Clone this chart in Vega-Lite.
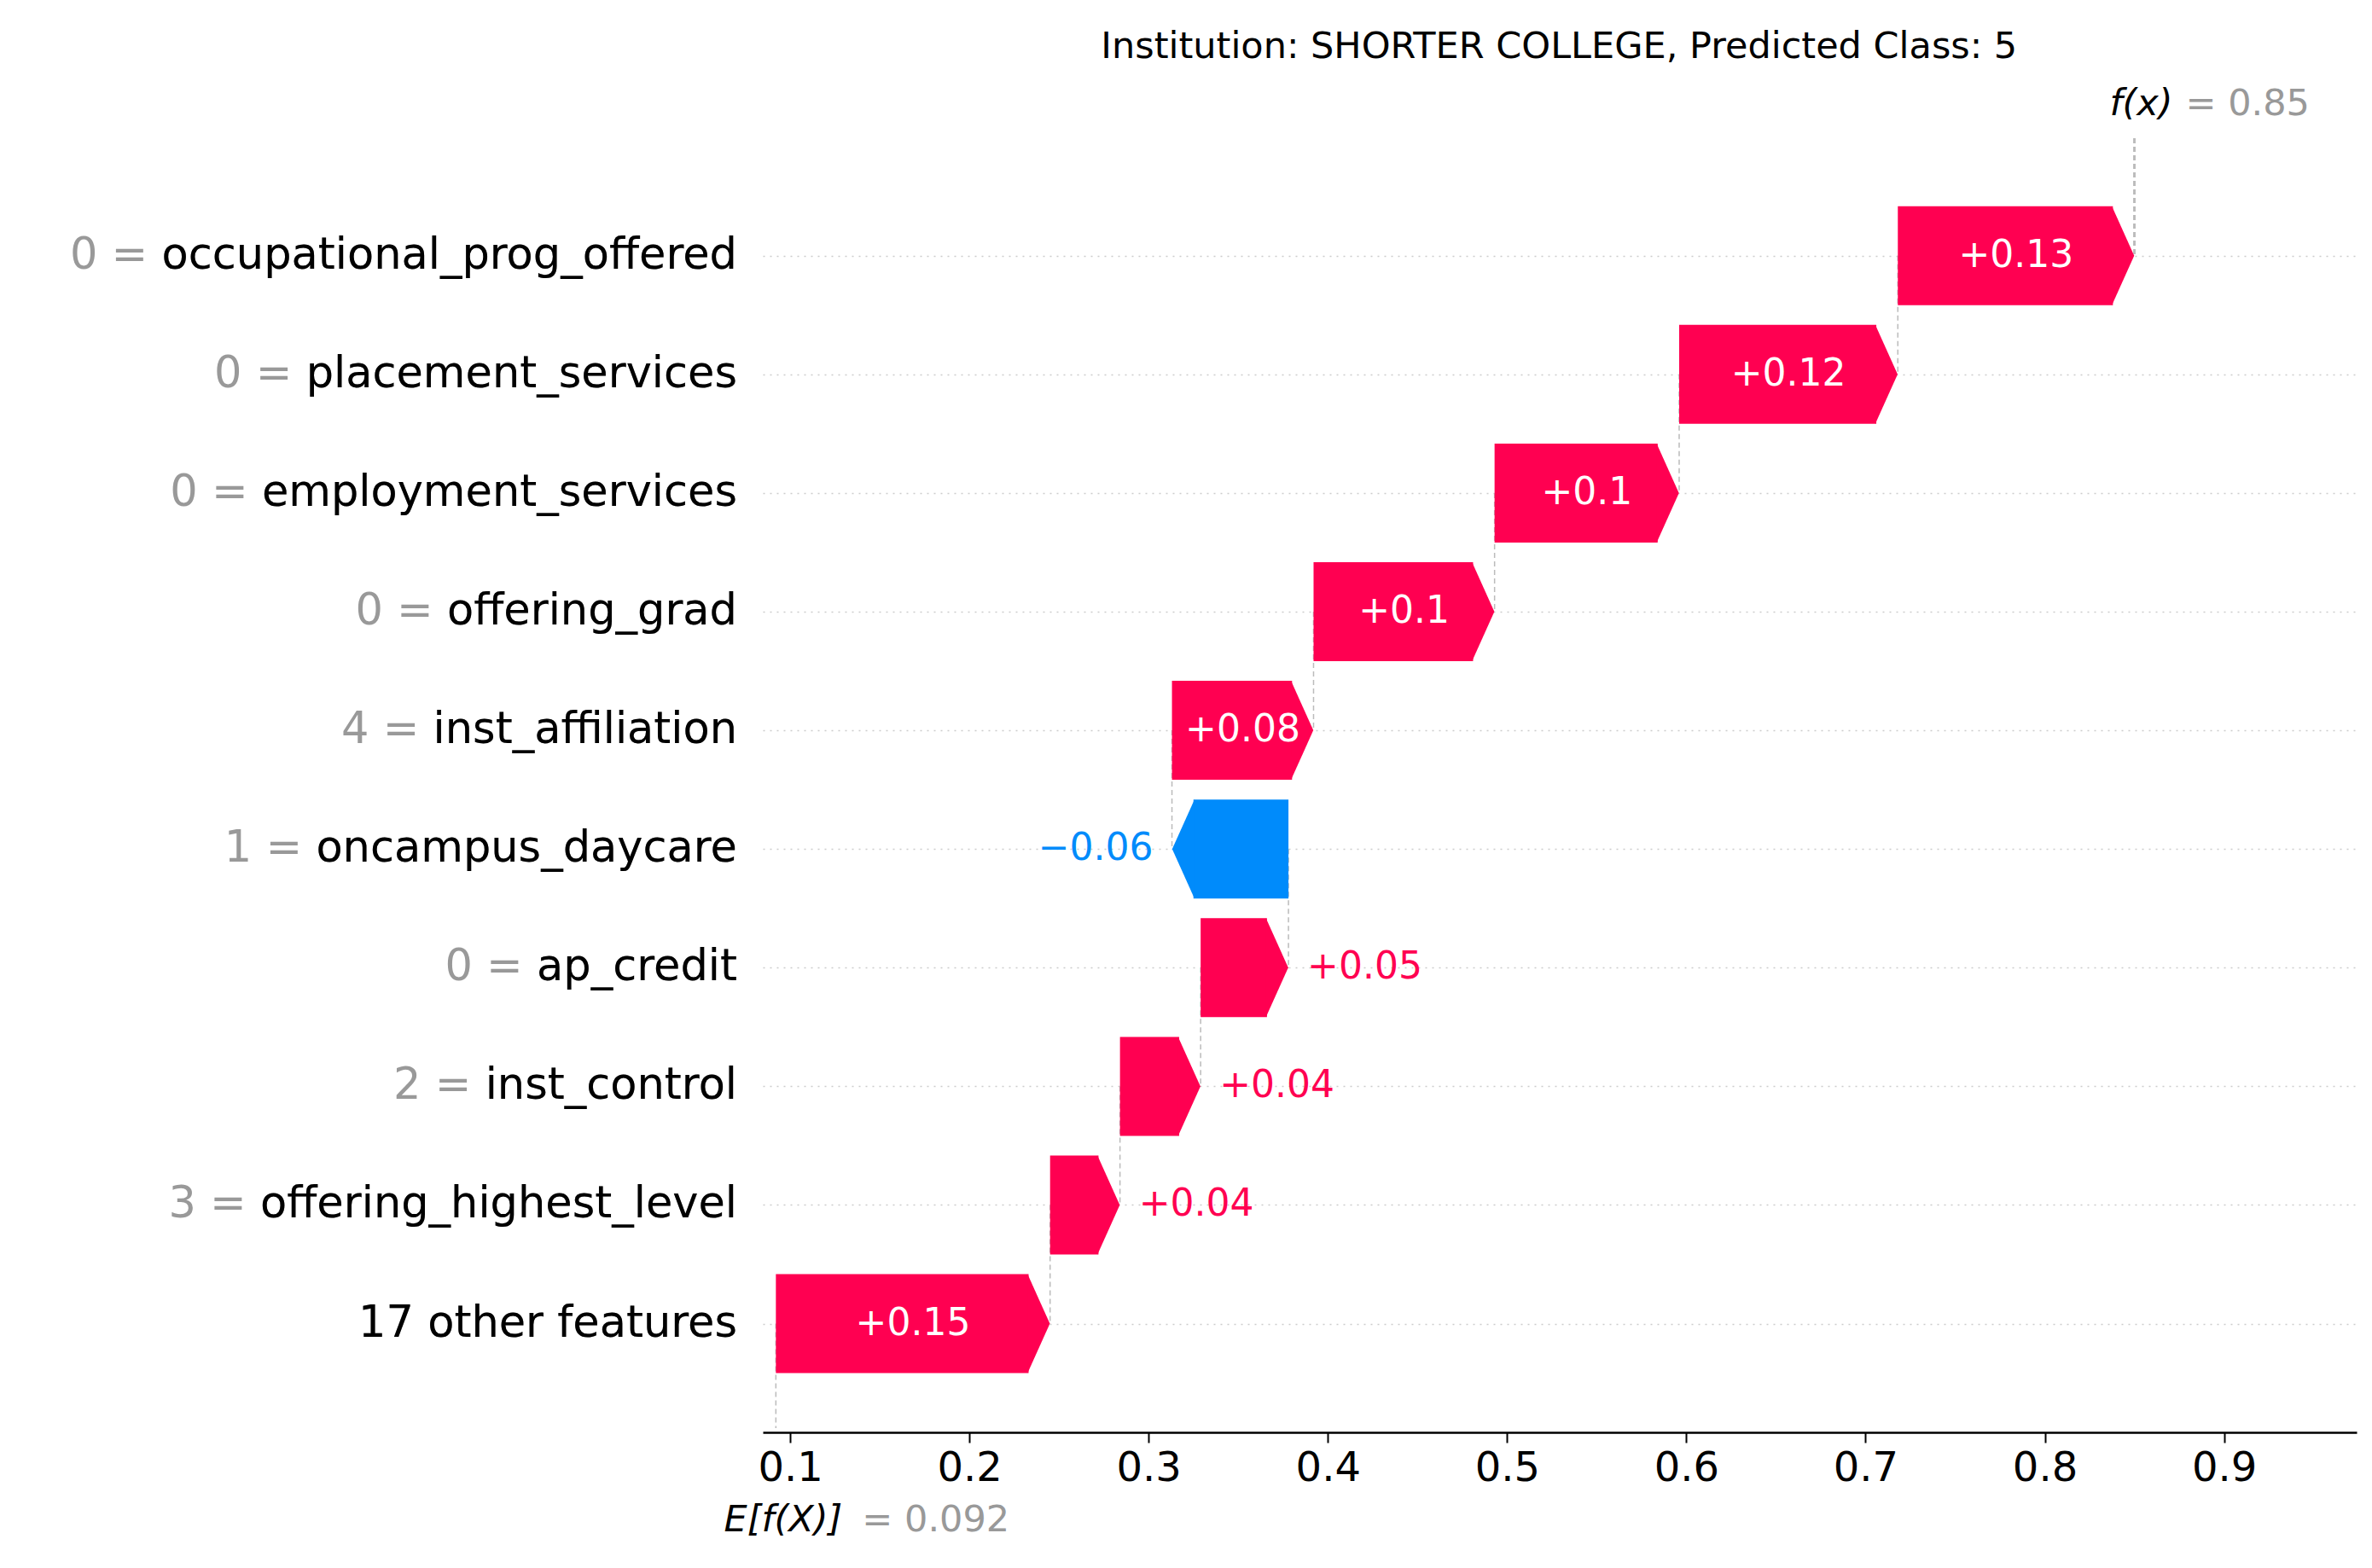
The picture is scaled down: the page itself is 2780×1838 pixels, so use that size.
{
"$schema":"https://vega.github.io/schema/vega-lite/v6.json",
"autosize":{"type":"none"},
"width":1868,"height":1522,
"padding":{"left":894,"top":157,"right":18,"bottom":159},
"background":"white",
"config":{"font":"DejaVu Sans","view":{"stroke":null}},
"data":{"values":[
{"row":0,"next":1,"name":"occupational_prog_offered","full":"0 = occupational_prog_offered","start":0.718,"end":0.850,"label":"+0.13","v":0.13},
{"row":1,"next":2,"name":"placement_services","full":"0 = placement_services","start":0.596,"end":0.718,"label":"+0.12","v":0.12},
{"row":2,"next":3,"name":"employment_services","full":"0 = employment_services","start":0.493,"end":0.596,"label":"+0.1","v":0.1},
{"row":3,"next":4,"name":"offering_grad","full":"0 = offering_grad","start":0.392,"end":0.493,"label":"+0.1","v":0.1},
{"row":4,"next":5,"name":"inst_affiliation","full":"4 = inst_affiliation","start":0.313,"end":0.392,"label":"+0.08","v":0.08},
{"row":5,"next":6,"name":"oncampus_daycare","full":"1 = oncampus_daycare","start":0.378,"end":0.313,"label":"\u22120.06","v":-0.06},
{"row":6,"next":7,"name":"ap_credit","full":"0 = ap_credit","start":0.329,"end":0.378,"label":"+0.05","v":0.05},
{"row":7,"next":8,"name":"inst_control","full":"2 = inst_control","start":0.284,"end":0.329,"label":"+0.04","v":0.04},
{"row":8,"next":9,"name":"offering_highest_level","full":"3 = offering_highest_level","start":0.245,"end":0.284,"label":"+0.04","v":0.04},
{"row":9,"next":9.88,"name":"17 other features","full":"17 other features","start":0.092,"end":0.245,"label":"+0.15","v":0.15}
]},
"transform":[
{"calculate":"datum.end > datum.start ? 'pos' : 'neg'","as":"dir"},
{"calculate":"datum.end - (datum.end > datum.start ? 0.012 : -0.012)","as":"bodyEnd"},
{"calculate":"(datum.start + datum.end)/2","as":"mid"}
],
"layer":[
{"mark":{"type":"rule","color":"#bbbbbb","strokeDash":[6,4],"strokeWidth":1.5},
 "encoding":{"x":{"field":"start","type":"quantitative","scale":{"domain":[0.0847,0.974],"nice":false,"zero":false},
   "axis":{"values":[0.1,0.2,0.3,0.4,0.5,0.6,0.7,0.8,0.9],"format":".1f","labelFontSize":48,"labelColor":"black","tickColor":"black","tickSize":12,"tickWidth":2,"domainColor":"black","domainWidth":2.5,"labelPadding":6,"grid":false,"title":null}},
  "y":{"field":"row","type":"quantitative","scale":{"domain":[-0.99,9.88],"reverse":true,"nice":false,"zero":false},
   "axis":{"values":[0,1,2,3,4,5,6,7,8,9],"labels":false,"ticks":false,"domain":false,"title":null,"grid":true,"gridColor":"#cccccc","gridDash":[2,6],"gridWidth":1.5}},
  "y2":{"field":"next"}}},
{"mark":{"type":"rule","color":"#bbbbbb","strokeDash":[6,4],"strokeWidth":1.5},
 "encoding":{"x":{"datum":0.85},"y":{"datum":-0.99},"y2":{"datum":0}}},
{"mark":{"type":"bar","size":116,"clip":false},
 "encoding":{"x":{"field":"start","type":"quantitative"},"x2":{"field":"bodyEnd"},"y":{"field":"row","type":"quantitative"},
  "color":{"field":"dir","type":"nominal","scale":{"domain":["pos","neg"],"range":["#ff0051","#008bfb"]},"legend":null}}},
{"mark":{"type":"point","filled":true,"opacity":1,"size":13456,"strokeWidth":0},
 "encoding":{"x":{"field":"bodyEnd","type":"quantitative"},"y":{"field":"row","type":"quantitative"},
  "shape":{"field":"dir","type":"nominal","scale":{"domain":["pos","neg"],"range":["M-0.02,-1L0.43,0L-0.02,1Z","M0.02,-1L-0.43,0L0.02,1Z"]},"legend":null},
  "color":{"field":"dir","type":"nominal","legend":null}}},
{"transform":[{"filter":"abs(datum.v) >= 0.07"}],
 "mark":{"type":"text","fontSize":44,"color":"white","align":"center","baseline":"middle"},
 "encoding":{"x":{"field":"mid","type":"quantitative"},"y":{"field":"row","type":"quantitative"},"text":{"field":"label"}}},
{"transform":[{"filter":"datum.v > 0 && datum.v < 0.07"}],
 "mark":{"type":"text","fontSize":44,"color":"#ff0051","align":"left","baseline":"middle","dx":22},
 "encoding":{"x":{"field":"end","type":"quantitative"},"y":{"field":"row","type":"quantitative"},"text":{"field":"label"}}},
{"transform":[{"filter":"datum.v < 0"}],
 "mark":{"type":"text","fontSize":44,"color":"#008bfb","align":"right","baseline":"middle","dx":-22},
 "encoding":{"x":{"field":"end","type":"quantitative"},"y":{"field":"row","type":"quantitative"},"text":{"field":"label"}}},
{"mark":{"type":"text","fontSize":51,"color":"#999999","align":"right","baseline":"middle","dx":-30},
 "encoding":{"x":{"datum":0.0847},"y":{"field":"row","type":"quantitative"},"text":{"field":"full"}}},
{"mark":{"type":"text","fontSize":51,"color":"black","align":"right","baseline":"middle","dx":-30},
 "encoding":{"x":{"datum":0.0847},"y":{"field":"row","type":"quantitative"},"text":{"field":"name"}}},
{"data":{"values":[{"t":"Institution: SHORTER COLLEGE, Predicted Class: 5"}]},
 "mark":{"type":"text","fontSize":43,"color":"black","align":"center","baseline":"middle","dy":-107},
 "encoding":{"x":{"datum":0.529},"y":{"datum":-0.99},"text":{"field":"t"}}},
{"data":{"values":[{"t":"f(x)"}]},
 "mark":{"type":"text","fontSize":43,"fontStyle":"italic","color":"black","align":"right","baseline":"middle","dx":45,"dy":-40},
 "encoding":{"x":{"datum":0.85},"y":{"datum":-0.99},"text":{"field":"t"}}},
{"data":{"values":[{"t":"= 0.85"}]},
 "mark":{"type":"text","fontSize":43,"color":"#999999","align":"left","baseline":"middle","dx":60,"dy":-40},
 "encoding":{"x":{"datum":0.85},"y":{"datum":-0.99},"text":{"field":"t"}}},
{"data":{"values":[{"t":"E[f(X)]"}]},
 "mark":{"type":"text","fontSize":43,"fontStyle":"italic","color":"black","align":"right","baseline":"middle","dx":78,"dy":108},
 "encoding":{"x":{"datum":0.092},"y":{"datum":9.88},"text":{"field":"t"}}},
{"data":{"values":[{"t":"= 0.092"}]},
 "mark":{"type":"text","fontSize":43,"color":"#999999","align":"left","baseline":"middle","dx":101,"dy":108},
 "encoding":{"x":{"datum":0.092},"y":{"datum":9.88},"text":{"field":"t"}}}
]
}
